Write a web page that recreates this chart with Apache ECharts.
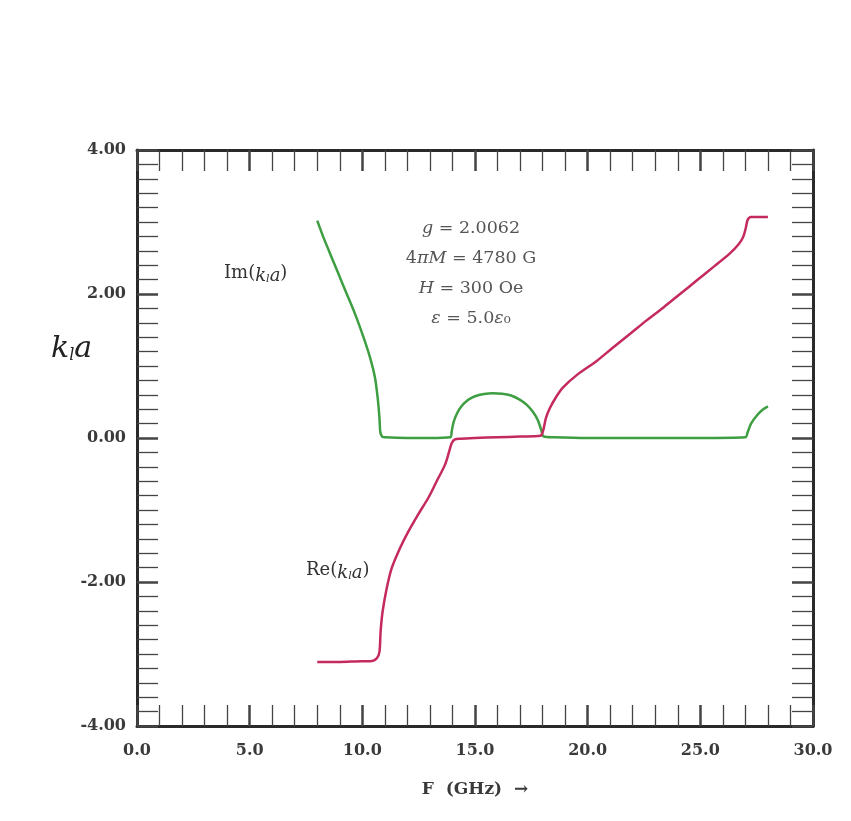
<!DOCTYPE html>
<html>
<head>
<meta charset="utf-8">
<script src="https://cdn.jsdelivr.net/npm/echarts@6/dist/echarts.min.js"></script>
<style>
html,body{margin:0;padding:0;background:#fff;}
#chart{width:851px;height:821px;}
</style>
</head>
<body>
<div id="chart"></div>
<script>
// Frequency (GHz) and Im(k_l a)
const imF = [8.0, 8.27, 8.57, 8.94, 9.31, 9.68, 10.05, 10.34, 10.56, 10.68, 10.76, 10.8, 10.88, 11.0, 12.0, 13.0, 13.9,
  13.97, 14.05, 14.2, 14.4, 14.7, 15.0, 15.4, 15.8, 16.2, 16.6, 17.0, 17.3, 17.6, 17.8, 17.95, 18.05,
  18.5, 20.0, 25.0, 27.0, 27.1, 27.25, 27.5, 27.75, 28.0];
const imK = [3.02, 2.79, 2.56, 2.28, 2.0, 1.72, 1.4, 1.12, 0.84, 0.56, 0.28, 0.08, 0.02, 0.01, 0.0, 0.0, 0.01,
  0.1, 0.22, 0.34, 0.44, 0.53, 0.58, 0.61, 0.62, 0.615, 0.59, 0.53, 0.46, 0.35, 0.24, 0.1, 0.02,
  0.01, 0.0, 0.0, 0.01, 0.08, 0.2, 0.31, 0.39, 0.44];
// Frequency (GHz) and Re(k_l a)
const reF = [8.0, 9.0, 10.0, 10.34, 10.64, 10.76, 10.81, 10.9, 11.08, 11.3, 11.67, 12.04, 12.48, 12.93, 13.3, 13.67,
  13.86, 13.97, 14.11, 14.34, 15.0, 16.0, 17.0, 17.9, 18.02, 18.15, 18.33, 18.6, 18.9, 19.5, 20.4, 21.1, 21.9,
  22.6, 23.35, 24.1, 24.85, 25.6, 26.3, 26.7, 26.9, 27.02, 27.1, 27.25, 28.0];
const reK = [-3.11, -3.11, -3.1, -3.1, -3.06, -2.97, -2.69, -2.41, -2.09, -1.81, -1.53, -1.3, -1.06, -0.83, -0.6, -0.37,
  -0.18, -0.07, -0.02, -0.01, 0.0, 0.01, 0.02, 0.03, 0.1, 0.28, 0.42, 0.57, 0.7, 0.87, 1.07, 1.25, 1.45,
  1.63, 1.81, 2.0, 2.19, 2.38, 2.56, 2.69, 2.79, 2.92, 3.03, 3.07, 3.07];

const xTicks = [0, 5, 10, 15, 20, 25, 30];
const yTicks = [-4, -2, 0, 2, 4];
const params = ['{i|g} = 2.0062', '4{i|πM} = 4780 G', '{i|H} = 300 Oe', '{i|ε} = 5.0{i|ε}₀'];

const serif = '"DejaVu Serif", "Liberation Serif", serif';
const frame = '#2a2a2a';
const tickCol = '#444';

function xAxisCfg(pos, showLabel) {
  return {
    type: 'value', position: pos, min: xTicks[0], max: xTicks[xTicks.length - 1], interval: 5,
    axisLine: { show: true, onZero: false, lineStyle: { color: frame, width: 3 } },
    axisTick: { show: true, inside: true, length: 21, lineStyle: { color: tickCol, width: 2.5 } },
    minorTick: { show: true, splitNumber: 5, length: 21, lineStyle: { color: tickCol, width: 1.3 } },
    splitLine: { show: false }, minorSplitLine: { show: false },
    axisLabel: { show: showLabel, margin: 17, fontFamily: serif, fontWeight: 'bold', fontSize: 16, color: '#3a3a3a',
      formatter: v => v.toFixed(1) },
    name: showLabel ? 'F  (GHz)  →' : '', nameLocation: 'middle', nameGap: 55,
    nameTextStyle: { fontFamily: serif, fontWeight: 'bold', fontSize: 17, color: '#3a3a3a' }
  };
}
function yAxisCfg(pos, showLabel) {
  return {
    type: 'value', position: pos, min: yTicks[0], max: yTicks[yTicks.length - 1], interval: 2,
    axisLine: { show: true, onZero: false, lineStyle: { color: frame, width: 3 } },
    axisTick: { show: true, inside: true, length: 21, lineStyle: { color: tickCol, width: 2.5 } },
    minorTick: { show: true, splitNumber: 10, length: 21, lineStyle: { color: tickCol, width: 1.3 } },
    splitLine: { show: false }, minorSplitLine: { show: false },
    axisLabel: { show: showLabel, margin: 11, fontFamily: serif, fontWeight: 'bold', fontSize: 16, color: '#3a3a3a',
      formatter: v => v.toFixed(2) }
  };
}

const chart = echarts.init(document.getElementById('chart'), null, { renderer: 'canvas' });
chart.setOption({
  backgroundColor: '#ffffff',
  animation: false,
  grid: { left: 137, right: 38, top: 150, bottom: 95 },
  xAxis: [xAxisCfg('bottom', true), xAxisCfg('top', false)],
  yAxis: [yAxisCfg('left', true), yAxisCfg('right', false)],
  series: [
    { name: 'Im', type: 'line', xAxisIndex: 0, yAxisIndex: 0, showSymbol: false, smooth: 0.3,
      lineStyle: { color: '#3e9e42', width: 2.5 }, data: imF.map((f, i) => [f, imK[i]]) },
    { name: 'Re', type: 'line', xAxisIndex: 0, yAxisIndex: 0, showSymbol: false, smooth: 0.3,
      lineStyle: { color: '#c42a5c', width: 2.5 }, data: reF.map((f, i) => [f, reK[i]]) }
  ],
  graphic: [
    { type: 'text', left: 51, top: 334, style: {
      text: '{i|k}{s|l}{i|a}', fill: '#222',
      rich: { i: { fontFamily: serif, fontStyle: 'italic', fontSize: 30, fill: '#222', verticalAlign: 'bottom', lineHeight: 38 },
              s: { fontFamily: serif, fontStyle: 'italic', fontSize: 16, fill: '#222', verticalAlign: 'bottom', lineHeight: 28 } } } },
    { type: 'text', left: 224, top: 264, style: {
      text: 'Im({i|k}{s|l}{i|a})', fontFamily: serif, fontSize: 18, fill: '#333',
      rich: { i: { fontFamily: serif, fontStyle: 'italic', fontSize: 18, fill: '#333', verticalAlign: 'bottom', lineHeight: 24 },
              s: { fontFamily: serif, fontStyle: 'italic', fontSize: 11, fill: '#333', verticalAlign: 'bottom', lineHeight: 19 } } } },
    { type: 'text', left: 306, top: 561, style: {
      text: 'Re({i|k}{s|l}{i|a})', fontFamily: serif, fontSize: 18, fill: '#333',
      rich: { i: { fontFamily: serif, fontStyle: 'italic', fontSize: 18, fill: '#333', verticalAlign: 'bottom', lineHeight: 24 },
              s: { fontFamily: serif, fontStyle: 'italic', fontSize: 11, fill: '#333', verticalAlign: 'bottom', lineHeight: 19 } } } },
    { type: 'text', x: 471, y: 213, style: {
      text: params.join('\n'), fontFamily: serif, fontSize: 17.5, lineHeight: 30, fill: '#555', align: 'center',
      rich: { i: { fontFamily: serif, fontStyle: 'italic', fontSize: 17.5, lineHeight: 30, fill: '#555' } } } }
  ]
});
</script>
</body>
</html>
